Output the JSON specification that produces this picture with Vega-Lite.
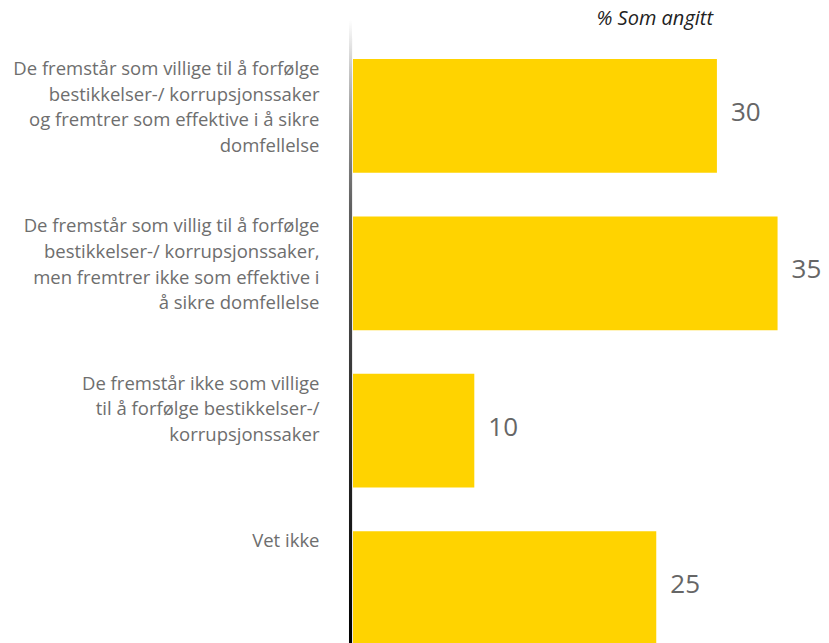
{
  "$schema": "https://vega.github.io/schema/vega-lite/v6.json",
  "autosize": {"type": "none"},
  "padding": {"left": 353, "top": 20, "right": 0, "bottom": 0},
  "width": 476,
  "height": 623,
  "background": "white",
  "title": {
    "text": "% Som angitt",
    "anchor": "end",
    "frame": "group",
    "dx": -116,
    "fontSize": 20,
    "fontStyle": "italic",
    "fontWeight": "normal",
    "font": "Open Sans",
    "color": "#222222",
    "offset": -9
  },
  "data": {
    "values": [
      {"label": "De fremstår som villige til å forfølge|bestikkelser-/ korrupsjonssaker|og fremtrer som effektive i å sikre|domfellelse", "value": 30},
      {"label": "De fremstår som villig til å forfølge|bestikkelser-/ korrupsjonssaker,|men fremtrer ikke som effektive i|å sikre domfellelse", "value": 35},
      {"label": "De fremstår ikke som villige|til å forfølge bestikkelser-/|korrupsjonssaker", "value": 10},
      {"label": "Vet ikke", "value": 25}
    ]
  },
  "config": {"view": {"stroke": null}},
  "layer": [
    {
      "mark": {"type": "bar", "color": "#FFD300"},
      "encoding": {
        "y": {
          "field": "label",
          "type": "nominal",
          "sort": null,
          "scale": {"range": [39, 625], "paddingInner": 0.277, "paddingOuter": 0},
          "axis": {
            "title": null,
            "domain": false,
            "ticks": false,
            "labelExpr": "split(datum.value, '|')",
            "labelAlign": "right",
            "labelBaseline": "top",
            "labelOffset": -56,
            "labelPadding": 34,
            "labelFontSize": 18.5,
            "labelFont": "Open Sans",
            "labelColor": "#6e6e6e",
            "labelLineHeight": 25.7,
            "labelLimit": 400
          }
        },
        "x": {
          "field": "value",
          "type": "quantitative",
          "scale": {"domain": [0, 39.24], "nice": false},
          "axis": null
        }
      }
    },
    {
      "mark": {"type": "text", "align": "left", "baseline": "middle", "dx": 14, "dy": -3, "fontSize": 26, "font": "Open Sans", "color": "#666666"},
      "encoding": {
        "y": {"field": "label", "type": "nominal", "sort": null},
        "x": {"field": "value", "type": "quantitative"},
        "text": {"field": "value", "type": "quantitative"}
      }
    },
    {
      "mark": {
        "type": "rect",
        "color": {
          "gradient": "linear",
          "x1": 0, "y1": 0, "x2": 0, "y2": 1,
          "stops": [
            {"offset": 0, "color": "#ffffff"},
            {"offset": 0.08, "color": "#c8c8c8"},
            {"offset": 0.16, "color": "#999999"},
            {"offset": 0.3, "color": "#606060"},
            {"offset": 0.6, "color": "#333333"},
            {"offset": 1, "color": "#000000"}
          ]
        }
      },
      "encoding": {
        "x": {"datum": -0.33, "type": "quantitative"},
        "x2": {"datum": -0.08}
      }
    }
  ]
}
